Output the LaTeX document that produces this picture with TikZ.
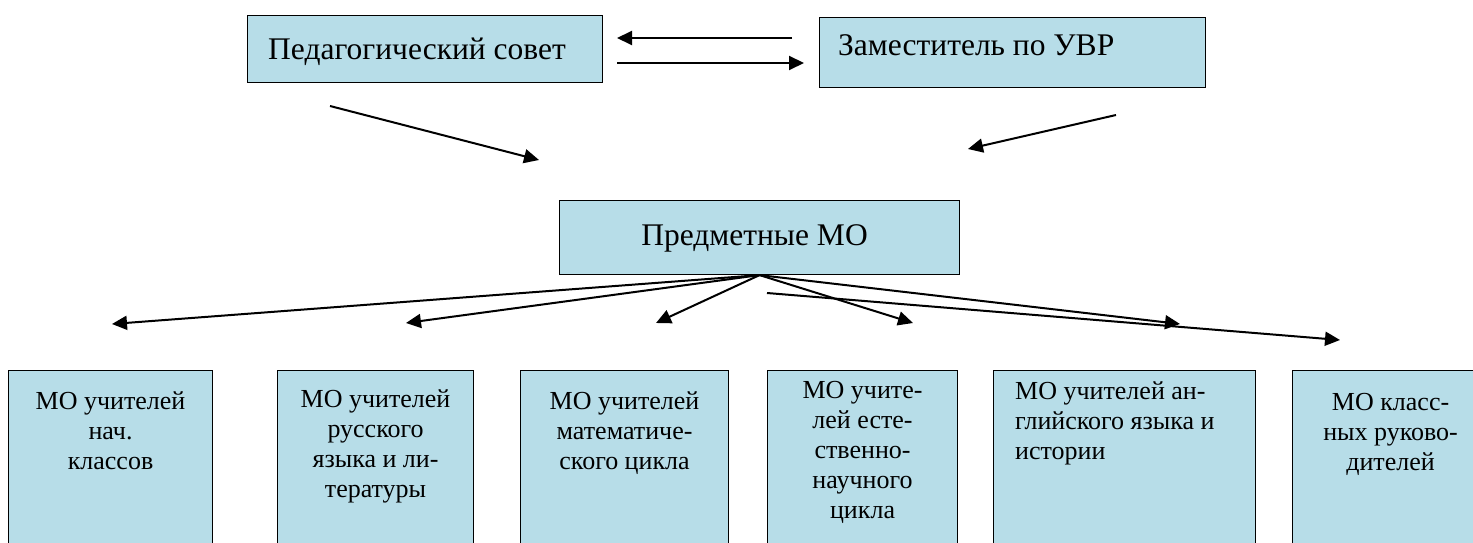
\documentclass[tikz,border=0pt]{standalone}
\usepackage{fontspec}
\setmainfont{Liberation Serif}
\newfontfamily\timesf{Liberation Serif}
\usetikzlibrary{arrows.meta}
\definecolor{boxfill}{RGB}{183,221,232}
\begin{document}
\begin{tikzpicture}[x=1pt,y=-1pt,
  box/.style={draw=black, line width=1.1pt, fill=boxfill, inner sep=0pt, anchor=north west},
  arr/.style={line width=2pt, -{Triangle[length=15pt,width=14pt]}},
  toptext/.style={font=\timesf\fontsize{31.5}{36}\selectfont, inner sep=0pt},
  bottext/.style={font=\timesf\fontsize{26}{30}\selectfont, align=center, anchor=north, inner sep=0pt},
]
\useasboundingbox (0,0) rectangle (1473,543);
\clip (0,0) rectangle (1473,543);
% top boxes
\node[box, minimum width=355pt, minimum height=67pt] (ped) at (247,15) {};
\node[toptext, anchor=base west] (pedt) at ([xshift=21pt,yshift=-10pt]ped.west) {Педагогический совет};
\node[box, minimum width=386pt, minimum height=70pt] (zam) at (819,17) {};
\node[toptext, anchor=base west] (zamt) at ([xshift=19pt,yshift=-3pt]zam.west) {Заместитель по УВР};
\node[box, minimum width=400pt, minimum height=74pt] (pm) at (559,200) {};
\node[toptext, anchor=base] (pmt) at ([xshift=-5pt,yshift=-8pt]pm.center) {Предметные МО};
% bottom boxes
\node[box, minimum width=204pt, minimum height=220pt] (b1) at (8,370) {};
\node[box, minimum width=196pt, minimum height=220pt] (b2) at (277,370) {};
\node[box, minimum width=208pt, minimum height=220pt] (b3) at (520,370) {};
\node[box, minimum width=190pt, minimum height=220pt] (b4) at (767,370) {};
\node[box, minimum width=262pt, minimum height=220pt] (b5) at (993,370) {};
\node[box, minimum width=196pt, minimum height=220pt] (b6) at (1292,370) {};
\node[bottext] (b1t) at ([yshift=-21pt]b1.north) {МО учителей\\нач.\\классов};
\node[bottext] (b2t) at ([yshift=-19pt]b2.north) {МО учителей\\русского\\языка и ли-\\тературы};
\node[bottext] (b3t) at ([yshift=-21pt]b3.north) {МО учителей\\математиче-\\ского цикла};
\node[bottext] (b4t) at ([yshift=-11pt]b4.north) {МО учите-\\лей есте-\\ственно-\\научного\\цикла};
\node[bottext, align=left, anchor=north west] (b5t) at ([xshift=22pt,yshift=-11pt]b5.north west) {МО учителей ан-\\глийского языка и\\истории};
\node[bottext] (b6t) at ([yshift=-23pt]b6.north) {МО класс-\\ных руково-\\дителей};
% arrows between top boxes
\coordinate (u0) at (792,38);
\coordinate (u1) at (617,38);
\coordinate (l0) at (617,63);
\coordinate (l1) at (804,63);
\draw[arr] (u0) -- (u1);
\draw[arr] (l0) -- (l1);
% diagonals
\coordinate (d1a) at (330,106);
\coordinate (d1b) at (539,160);
\coordinate (d2a) at (1116,115);
\coordinate (d2b) at (968,149);
\draw[arr] (d1a) -- (d1b);
\draw[arr] (d2a) -- (d2b);
% fan
\coordinate (f1) at (112,324);
\coordinate (f2) at (406,323);
\coordinate (f3) at (656,323);
\coordinate (f4) at (913,323);
\coordinate (f5) at (1180,324);
\foreach \t in {f1,f2,f3,f4,f5} \draw[arr] (pm.south) -- (\t);
\coordinate (s0) at (767,293);
\coordinate (s1) at (1340,340);
\draw[arr] (s0) -- (s1);
\end{tikzpicture}
\end{document}
